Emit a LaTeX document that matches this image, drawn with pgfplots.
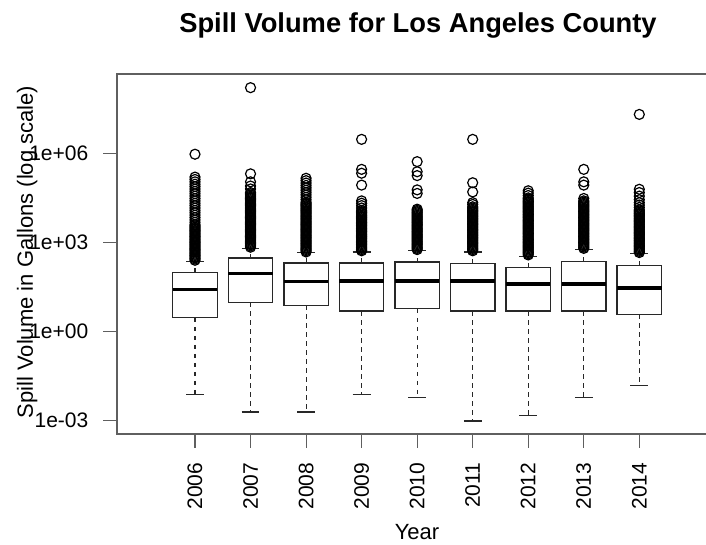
\documentclass[border=0pt]{standalone}
\usepackage{pgfplots}
\pgfplotsset{compat=1.18}
\usepgfplotslibrary{statistics}
\usepackage{fontspec}
\setmainfont{Liberation Sans}
\definecolor{framegray}{RGB}{95,95,95}
\definecolor{boxgray}{RGB}{40,40,40}
\pgfplotsset{
  myboxes/.style={
    boxgray, line width=1.3pt,
    mark=o, mark size=5pt, mark options={solid, line width=1.2pt, black},
    boxplot/draw direction=y,
    boxplot/box extend=0.8,
    boxplot/every median/.style={line width=3.5pt, black},
    boxplot/every box/.style={line width=1.3pt, fill=white},
    boxplot/draw/lower whisker/.code={%
      \draw[line width=1.1pt, dash pattern=on 4.5pt off 4.5pt]
        (boxplot box cs:\pgfplotsboxplotvalue{lower quartile},0.5) --
        (boxplot box cs:\pgfplotsboxplotvalue{lower whisker},0.5);
      \draw[line width=1.2pt]
        (boxplot box cs:\pgfplotsboxplotvalue{lower whisker},0.3) --
        (boxplot box cs:\pgfplotsboxplotvalue{lower whisker},0.7);
    },
    boxplot/draw/upper whisker/.code={%
      \draw[line width=1.1pt, dash pattern=on 4.5pt off 4.5pt]
        (boxplot box cs:\pgfplotsboxplotvalue{upper quartile},0.5) --
        (boxplot box cs:\pgfplotsboxplotvalue{upper whisker},0.5);
      \draw[line width=1.2pt]
        (boxplot box cs:\pgfplotsboxplotvalue{upper whisker},0.3) --
        (boxplot box cs:\pgfplotsboxplotvalue{upper whisker},0.7);
    },
  }
}
\begin{document}
\begin{tikzpicture}
\useasboundingbox (-117pt,-110pt) rectangle (589pt,434pt);
\begin{axis}[
  at={(0pt,0pt)}, anchor=south west,
  scale only axis, width=595pt, height=360pt,
  xmin=-0.4044, xmax=10.309, ymin=-3.448, ymax=8.67,
  xtick={1,2,3,4,5,6,7,8,9},
  xticklabels={2006,2007,2008,2009,2010,2011,2012,2013,2014},
  ytick={-3,0,3,6},
  yticklabels={1e-03,1e+00,1e+03,1e+06},
  tick pos=left,
  tick align=outside,
  major tick length=13.5pt,
  tick style={framegray, line width=1.1pt},
  axis line style={framegray, line width=1.3pt},
  xticklabel style={rotate=90, anchor=east, font=\fontsize{21}{25}\selectfont, inner ysep=0pt, inner xsep=15pt},
  yticklabel style={font=\fontsize{21}{25}\selectfont, inner ysep=0pt, inner xsep=15pt},
  clip=false,
]
% 2006
\addplot[myboxes, boxplot prepared={draw position=1, lower whisker=-2.13, lower quartile=0.465, median=1.42, upper quartile=2.0, upper whisker=2.36}]
 table[row sep=\\, y index=0] {y\\ 2.40\\ 2.44\\ 2.48\\ 2.52\\ 2.56\\ 2.60\\ 2.64\\ 2.68\\ 2.72\\ 2.76\\ 2.80\\ 2.84\\ 2.88\\ 2.92\\ 2.96\\ 3.00\\ 3.04\\ 3.08\\ 3.12\\ 3.16\\ 3.20\\ 3.24\\ 3.28\\ 3.32\\ 3.36\\ 3.40\\ 3.44\\ 3.48\\ 3.52\\ 3.56\\ 3.60\\ 3.68\\ 3.76\\ 3.84\\ 3.92\\ 4.00\\ 4.08\\ 4.16\\ 4.24\\ 4.32\\ 4.40\\ 4.48\\ 4.56\\ 4.64\\ 4.72\\ 4.80\\ 4.88\\ 4.96\\ 5.04\\ 5.12\\ 5.20\\ 5.97\\};
% 2007
\addplot[myboxes, boxplot prepared={draw position=2, lower whisker=-2.71, lower quartile=0.983, median=1.95, upper quartile=2.475, upper whisker=2.80}]
 table[row sep=\\, y index=0] {y\\ 2.84\\ 2.88\\ 2.92\\ 2.96\\ 3.00\\ 3.04\\ 3.08\\ 3.12\\ 3.16\\ 3.20\\ 3.24\\ 3.28\\ 3.32\\ 3.36\\ 3.40\\ 3.44\\ 3.48\\ 3.52\\ 3.56\\ 3.60\\ 3.64\\ 3.68\\ 3.72\\ 3.76\\ 3.80\\ 3.84\\ 3.88\\ 3.92\\ 3.96\\ 4.00\\ 4.04\\ 4.08\\ 4.12\\ 4.16\\ 4.20\\ 4.24\\ 4.28\\ 4.32\\ 4.36\\ 4.40\\ 4.44\\ 4.48\\ 4.52\\ 4.56\\ 4.60\\ 4.64\\ 4.68\\ 4.80\\ 4.90\\ 5.04\\ 5.31\\ 8.21\\};
% 2008
\addplot[myboxes, boxplot prepared={draw position=3, lower whisker=-2.71, lower quartile=0.88, median=1.69, upper quartile=2.31, upper whisker=2.65}]
 table[row sep=\\, y index=0] {y\\ 2.68\\ 2.72\\ 2.76\\ 2.80\\ 2.84\\ 2.88\\ 2.92\\ 2.96\\ 3.00\\ 3.04\\ 3.08\\ 3.12\\ 3.16\\ 3.20\\ 3.24\\ 3.28\\ 3.32\\ 3.36\\ 3.40\\ 3.44\\ 3.48\\ 3.52\\ 3.56\\ 3.60\\ 3.64\\ 3.68\\ 3.72\\ 3.76\\ 3.80\\ 3.84\\ 3.88\\ 3.92\\ 3.96\\ 4.00\\ 4.04\\ 4.08\\ 4.12\\ 4.16\\ 4.20\\ 4.24\\ 4.28\\ 4.32\\ 4.36\\ 4.44\\ 4.52\\ 4.60\\ 4.68\\ 4.76\\ 4.84\\ 4.92\\ 5.00\\ 5.08\\ 5.16\\};
% 2009
\addplot[myboxes, boxplot prepared={draw position=4, lower whisker=-2.115, lower quartile=0.69, median=1.70, upper quartile=2.31, upper whisker=2.68}]
 table[row sep=\\, y index=0] {y\\ 2.72\\ 2.76\\ 2.80\\ 2.84\\ 2.88\\ 2.92\\ 2.96\\ 3.00\\ 3.04\\ 3.08\\ 3.12\\ 3.16\\ 3.20\\ 3.24\\ 3.28\\ 3.32\\ 3.36\\ 3.40\\ 3.44\\ 3.48\\ 3.52\\ 3.56\\ 3.60\\ 3.64\\ 3.68\\ 3.72\\ 3.76\\ 3.80\\ 3.84\\ 3.88\\ 3.92\\ 3.96\\ 4.00\\ 4.04\\ 4.08\\ 4.16\\ 4.24\\ 4.32\\ 4.40\\ 4.93\\ 5.33\\ 5.46\\ 6.47\\};
% 2010
\addplot[myboxes, boxplot prepared={draw position=5, lower whisker=-2.23, lower quartile=0.767, median=1.70, upper quartile=2.34, upper whisker=2.73}]
 table[row sep=\\, y index=0] {y\\ 2.76\\ 2.80\\ 2.84\\ 2.88\\ 2.92\\ 2.96\\ 3.00\\ 3.04\\ 3.08\\ 3.12\\ 3.16\\ 3.20\\ 3.24\\ 3.28\\ 3.32\\ 3.36\\ 3.40\\ 3.44\\ 3.48\\ 3.52\\ 3.56\\ 3.60\\ 3.64\\ 3.68\\ 3.72\\ 3.76\\ 3.80\\ 3.84\\ 3.88\\ 3.92\\ 3.96\\ 4.00\\ 4.04\\ 4.08\\ 4.12\\ 4.65\\ 4.77\\ 5.25\\ 5.38\\ 5.72\\};
% 2011
\addplot[myboxes, boxplot prepared={draw position=6, lower whisker=-3.01, lower quartile=0.69, median=1.70, upper quartile=2.30, upper whisker=2.68}]
 table[row sep=\\, y index=0] {y\\ 2.72\\ 2.76\\ 2.80\\ 2.84\\ 2.88\\ 2.92\\ 2.96\\ 3.00\\ 3.04\\ 3.08\\ 3.12\\ 3.16\\ 3.20\\ 3.24\\ 3.28\\ 3.32\\ 3.36\\ 3.40\\ 3.44\\ 3.48\\ 3.52\\ 3.56\\ 3.60\\ 3.64\\ 3.68\\ 3.72\\ 3.76\\ 3.80\\ 3.84\\ 3.88\\ 3.92\\ 3.96\\ 4.00\\ 4.04\\ 4.08\\ 4.12\\ 4.16\\ 4.20\\ 4.28\\ 4.34\\ 4.70\\ 5.01\\ 6.47\\};
% 2012
\addplot[myboxes, boxplot prepared={draw position=7, lower whisker=-2.82, lower quartile=0.69, median=1.60, upper quartile=2.16, upper whisker=2.54}]
 table[row sep=\\, y index=0] {y\\ 2.58\\ 2.62\\ 2.66\\ 2.70\\ 2.74\\ 2.78\\ 2.82\\ 2.86\\ 2.90\\ 2.94\\ 2.98\\ 3.02\\ 3.06\\ 3.10\\ 3.14\\ 3.18\\ 3.22\\ 3.26\\ 3.30\\ 3.34\\ 3.38\\ 3.42\\ 3.46\\ 3.50\\ 3.54\\ 3.58\\ 3.62\\ 3.66\\ 3.70\\ 3.74\\ 3.78\\ 3.82\\ 3.86\\ 3.90\\ 3.94\\ 3.98\\ 4.02\\ 4.06\\ 4.10\\ 4.14\\ 4.18\\ 4.22\\ 4.26\\ 4.30\\ 4.34\\ 4.38\\ 4.42\\ 4.46\\ 4.50\\ 4.58\\ 4.66\\ 4.74\\};
% 2013
\addplot[myboxes, boxplot prepared={draw position=8, lower whisker=-2.23, lower quartile=0.69, median=1.60, upper quartile=2.36, upper whisker=2.77}]
 table[row sep=\\, y index=0] {y\\ 2.80\\ 2.84\\ 2.88\\ 2.92\\ 2.96\\ 3.00\\ 3.04\\ 3.08\\ 3.12\\ 3.16\\ 3.20\\ 3.24\\ 3.28\\ 3.32\\ 3.36\\ 3.40\\ 3.44\\ 3.48\\ 3.52\\ 3.56\\ 3.60\\ 3.64\\ 3.68\\ 3.72\\ 3.76\\ 3.80\\ 3.84\\ 3.88\\ 3.92\\ 3.96\\ 4.00\\ 4.04\\ 4.08\\ 4.12\\ 4.16\\ 4.20\\ 4.24\\ 4.28\\ 4.32\\ 4.36\\ 4.40\\ 4.48\\ 4.93\\ 5.04\\ 5.46\\};
% 2014
\addplot[myboxes, boxplot prepared={draw position=9, lower whisker=-1.82, lower quartile=0.58, median=1.465, upper quartile=2.23, upper whisker=2.63}]
 table[row sep=\\, y index=0] {y\\ 2.66\\ 2.70\\ 2.74\\ 2.78\\ 2.82\\ 2.86\\ 2.90\\ 2.94\\ 2.98\\ 3.02\\ 3.06\\ 3.10\\ 3.14\\ 3.18\\ 3.22\\ 3.26\\ 3.30\\ 3.34\\ 3.38\\ 3.42\\ 3.46\\ 3.50\\ 3.54\\ 3.58\\ 3.62\\ 3.66\\ 3.70\\ 3.74\\ 3.78\\ 3.82\\ 3.86\\ 3.90\\ 3.94\\ 3.98\\ 4.02\\ 4.06\\ 4.10\\ 4.18\\ 4.26\\ 4.34\\ 4.44\\ 4.56\\ 4.68\\ 4.79\\ 7.31\\};
\end{axis}
\node[font=\fontsize{27.3}{31}\selectfont\bfseries, anchor=base] at (301pt,401pt) {Spill Volume for Los Angeles County};
\node[font=\fontsize{22}{26}\selectfont, rotate=90, anchor=base] at (-84pt,182pt) {Spill Volume in Gallons (log scale)};
\node[font=\fontsize{22}{26}\selectfont, anchor=base] at (300pt,-105pt) {Year};
\end{tikzpicture}
\end{document}
